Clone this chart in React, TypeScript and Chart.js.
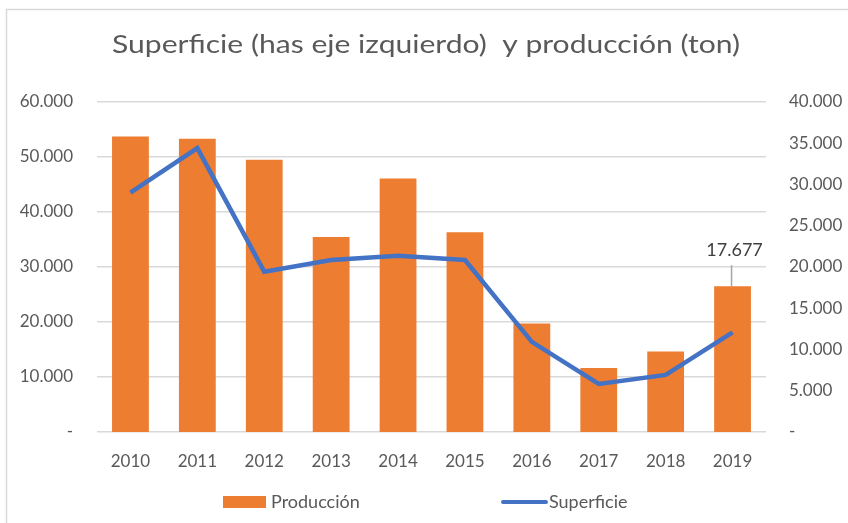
import React, { useEffect, useRef } from "react";
import { Chart, registerables } from "chart.js";

Chart.register(...registerables);

const years = ["2010", "2011", "2012", "2013", "2014", "2015", "2016", "2017", "2018", "2019"];
const produccion = [35820, 35540, 32990, 23640, 30720, 24210, 13160, 7770, 9760, 17677];
const superficie = [43530, 51620, 29150, 31270, 32060, 31270, 16390, 8740, 10380, 18100];
const leftTicks = [0, 10000, 20000, 30000, 40000, 50000, 60000];
const rightTicks = [0, 5000, 10000, 15000, 20000, 25000, 30000, 35000, 40000];
const titleText = "Superficie (has eje izquierdo)  y producción (ton)";
const labelIndex = 9;

const FONT = "Lato, 'Open Sans', sans-serif";
const GRAY = "#595959";

function fmt(v: number): string {
  if (v === 0) return "-";
  return Math.round(v).toLocaleString("de-DE");
}

const decorPlugin = {
  id: "decor",
  afterDraw(chart: any) {
    const ctx = chart.ctx;
    ctx.save();
    // frame
    ctx.strokeStyle = "#d9d9d9";
    ctx.lineWidth = 1.5;
    ctx.strokeRect(6.5, 9.5, 860, 530);
    // title (slightly widened to match reference metrics)
    ctx.save();
    ctx.fillStyle = GRAY;
    ctx.font = `25px ${FONT}`;
    ctx.textAlign = "center";
    ctx.textBaseline = "alphabetic";
    const w = ctx.measureText(titleText).width;
    const sx = 628 / w;
    ctx.translate(426, 53);
    ctx.scale(sx, 1);
    ctx.fillText(titleText, 0, 0);
    ctx.restore();
    // data label with leader line
    const meta = chart.getDatasetMeta(0);
    const bar = meta.data[labelIndex];
    if (bar) {
      ctx.strokeStyle = "#a6a6a6";
      ctx.lineWidth = 1.5;
      ctx.beginPath();
      ctx.moveTo(bar.x - 1, bar.y);
      ctx.lineTo(bar.x - 1, bar.y - 21);
      ctx.stroke();
      ctx.fillStyle = "#404040";
      ctx.font = `18px ${FONT}`;
      ctx.textAlign = "center";
      ctx.textBaseline = "middle";
      ctx.fillText(fmt(produccion[labelIndex]), bar.x + 2, bar.y - 36);
    }
    // legend
    ctx.fillStyle = "#ED7D31";
    ctx.fillRect(223, 496, 43, 12);
    ctx.fillStyle = GRAY;
    ctx.font = `18px ${FONT}`;
    ctx.textAlign = "left";
    ctx.textBaseline = "middle";
    ctx.fillText("Producción", 271, 502);
    ctx.strokeStyle = "#4472C4";
    ctx.lineWidth = 4;
    ctx.lineCap = "round";
    ctx.beginPath();
    ctx.moveTo(503, 502);
    ctx.lineTo(546, 502);
    ctx.stroke();
    ctx.fillText("Superficie", 549, 502);
    ctx.restore();
  },
};

export default function App() {
  const ref = useRef<HTMLCanvasElement>(null);
  useEffect(() => {
    if (!ref.current) return;
    const chart = new Chart(ref.current, {
      data: {
        labels: years,
        datasets: [
          {
            type: "bar",
            label: "Producción",
            data: produccion,
            backgroundColor: "#ED7D31",
            yAxisID: "y2",
            categoryPercentage: 0.55,
            barPercentage: 1,
            order: 2,
          },
          {
            type: "line",
            label: "Superficie",
            data: superficie,
            borderColor: "#4472C4",
            borderWidth: 4.5,
            pointRadius: 0,
            tension: 0,
            yAxisID: "y",
            order: 1,
          },
        ],
      } as any,
      options: {
        animation: false,
        responsive: false,
        layout: { padding: { top: 102, left: 0, right: 0, bottom: 0 } },
        plugins: { legend: { display: false }, tooltip: { enabled: false }, title: { display: false } },
        scales: {
          x: {
            grid: { display: false, drawTicks: false },
            border: { display: false },
            ticks: { color: GRAY, font: { family: FONT, size: 17 }, padding: 19, maxRotation: 0 },
            afterFit: (s: any) => { s.height = 91; },
          },
          y: {
            position: "left",
            min: 0,
            max: 60000,
            afterBuildTicks: (s: any) => { s.ticks = leftTicks.map((v) => ({ value: v })); },
            grid: { color: "#d9d9d9", lineWidth: 1.5, drawTicks: false },
            border: { display: false },
            ticks: { color: GRAY, font: { family: FONT, size: 17 }, padding: 24, callback: (v: any) => fmt(Number(v)) },
            afterFit: (s: any) => { s.width = 97; },
          },
          y2: {
            position: "right",
            min: 0,
            max: 40000,
            afterBuildTicks: (s: any) => { s.ticks = rightTicks.map((v) => ({ value: v })); },
            grid: { display: false, drawTicks: false },
            border: { display: false },
            ticks: { color: GRAY, font: { family: FONT, size: 17 }, padding: 23, callback: (v: any) => fmt(Number(v)) },
            afterFit: (s: any) => { s.width = 82; },
          },
        },
      } as any,
      plugins: [decorPlugin],
    });
    return () => chart.destroy();
  }, []);
  return (
    <div style={{ position: "fixed", left: 0, top: 0, width: 848, height: 523, background: "#fff" }}>
      <canvas ref={ref} width={848} height={523} style={{ width: 848, height: 523, display: "block" }} />
    </div>
  );
}
